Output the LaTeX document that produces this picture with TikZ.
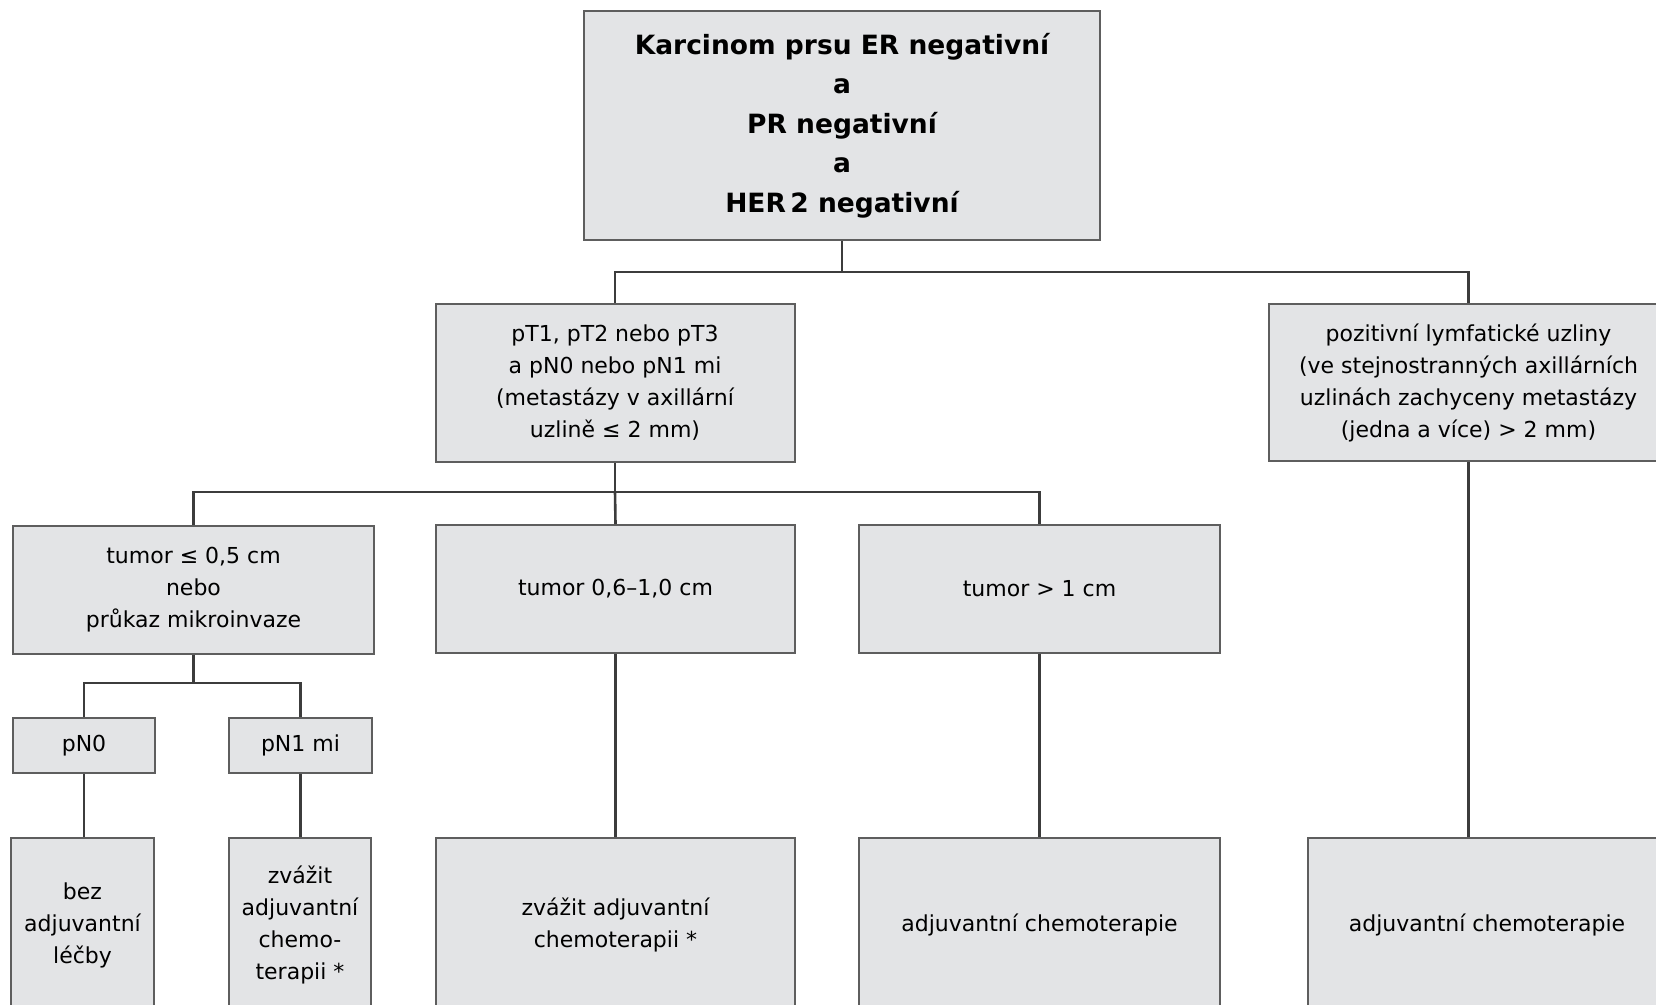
\documentclass[tikz,border=0pt]{standalone}
\usepackage{fontspec}
\setmainfont{DejaVu Sans}
\definecolor{boxfill}{HTML}{E3E4E6}
\definecolor{boxline}{HTML}{5E5E5E}
\definecolor{conn}{HTML}{3C3C3C}
\begin{document}
\begin{tikzpicture}[x=1pt,y=-1pt,
  box/.style={draw=boxline,fill=boxfill,line width=2pt,align=center,inner sep=0pt,
    font=\fontsize{22}{32}\selectfont},
  bigbox/.style={box,font=\fontsize{26.5}{39.6}\selectfont\bfseries},
  conline/.style={draw=conn,line width=2.6pt}]
\useasboundingbox (0,0) rectangle (1656,1004);
\fill[white] (0,0) rectangle (1656,1004);
% nodes
\node[bigbox,minimum width=516pt,minimum height=229pt] (top) at (842,125.5)
  {Karcinom prsu ER negativní\\a\\PR negativní\\a\\HER\,2 negativní};
\node[box,minimum width=359pt,minimum height=158pt] (pt) at (615,383)
  {pT1, pT2 nebo pT3\\a pN0 nebo pN1 mi\\(metastázy v axillární\\uzlině ≤ 2 mm)};
\node[box,minimum width=399pt,minimum height=157pt] (poz) at (1468.5,382.5)
  {pozitivní lymfatické uzliny\\(ve stejnostranných axillárních\\uzlinách zachyceny metastázy\\(jedna a více) > 2 mm)};
\node[box,minimum width=361pt,minimum height=128pt] (t1) at (193.5,590)
  {tumor ≤ 0,5 cm\\nebo\\průkaz mikroinvaze};
\node[box,minimum width=359pt,minimum height=128pt] (t2) at (615.5,589)
  {tumor 0,6–1,0 cm};
\node[box,minimum width=361pt,minimum height=128pt] (t3) at (1039.5,589)
  {tumor > 1 cm};
\node[box,minimum width=142pt,minimum height=55pt] (pn0) at (84,745.5) {pN0};
\node[box,minimum width=143pt,minimum height=55pt] (pn1) at (300.5,745.5) {pN1 mi};
\node[box,minimum width=143pt,minimum height=174pt] (b1) at (82.5,925)
  {bez\\adjuvantní\\léčby};
\node[box,minimum width=142pt,minimum height=174pt] (b2) at (300,925)
  {zvážit\\adjuvantní\\chemo-\\terapii *};
\node[box,minimum width=359pt,minimum height=174pt] (b3) at (615.5,925)
  {zvážit adjuvantní\\chemoterapii *};
\node[box,minimum width=361pt,minimum height=174pt] (b4) at (1039.5,925)
  {adjuvantní chemoterapie};
\node[box,minimum width=358pt,minimum height=174pt] (b5) at (1487,925)
  {adjuvantní chemoterapie};
% bus coordinates
\coordinate (bus1) at (842,272);
\coordinate (bus2) at (615,492);
\coordinate (bus3) at (193.5,683);
% connectors
\draw[conline] (top.south) -- (bus1);
\draw[conline] (bus1) -| (pt.north);
\draw[conline] (bus1) -| (poz.north);
\draw[conline] (pt.south) -- (bus2);
\draw[conline] (bus2) -| (t1.north);
\draw[conline] (bus2) -- (t2.north);
\draw[conline] (bus2) -| (t3.north);
\draw[conline] (t1.south) -- (bus3);
\draw[conline] (bus3) -| (pn0.north);
\draw[conline] (bus3) -| (pn1.north);
\draw[conline] (pn0.south) -- (pn0.south |- b1.north);
\draw[conline] (pn1.south) -- (pn1.south |- b2.north);
\draw[conline] (t2.south) -- (t2.south |- b3.north);
\draw[conline] (t3.south) -- (t3.south |- b4.north);
\draw[conline] (poz.south) -- (poz.south |- b5.north);
\end{tikzpicture}
\end{document}
